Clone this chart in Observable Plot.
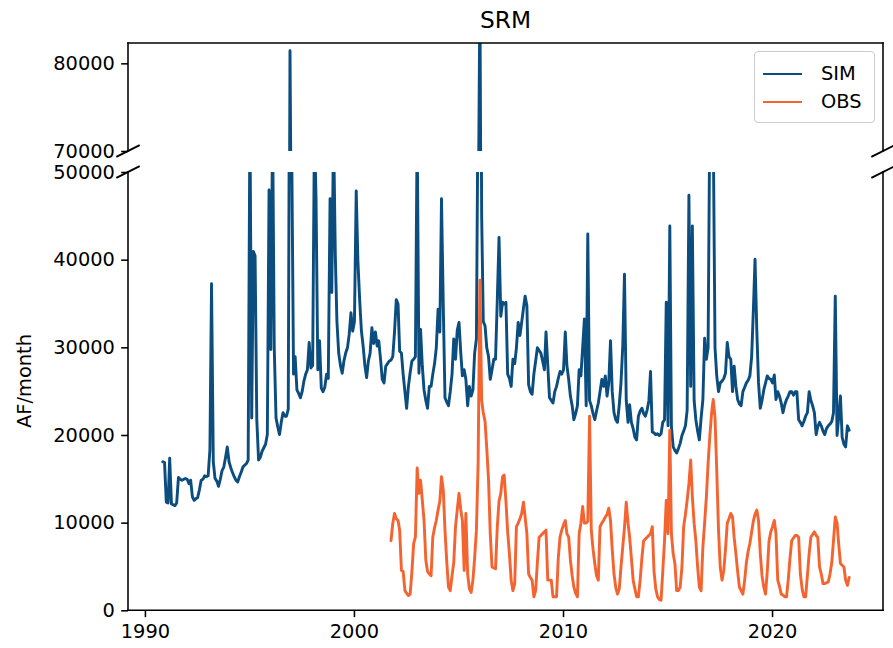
<!DOCTYPE html>
<html>
<head>
<meta charset="utf-8">
<script src="https://cdn.jsdelivr.net/npm/d3@7"></script>
<script src="https://cdn.jsdelivr.net/npm/@observablehq/plot@0.6"></script>
<style>
  body { margin: 0; background: #fff; }
  #chart { position: relative; width: 893px; height: 648px; overflow: hidden; font-family: "DejaVu Sans", sans-serif; color: #000; background: #fff; }
  #chart svg { position: absolute; left: 0; }
  .title { position: absolute; left: 128px; width: 755px; top: 8px; text-align: center; font-size: 23.3px; line-height: 1; }
  .ylabel { position: absolute; left: 25px; top: 381px; transform: translate(-50%, -50%) rotate(-90deg); font-size: 19.4px; white-space: nowrap; line-height: 1; }
  .legend { position: absolute; left: 754px; top: 51px; width: 121px; height: 72px; box-sizing: border-box; border: 1px solid #cccccc; border-radius: 4px; background: rgba(255,255,255,0.8); }
  .legend .sw { position: absolute; left: 8px; width: 39px; height: 2.9px; }
  .legend .lb { position: absolute; left: 66px; font-size: 19.4px; line-height: 1; transform: translateY(-50%); }
</style>
</head>
<body>
<div id="chart"></div>
<script>
// ---------------- data ----------------
const chartTitle = "SRM";
const yLabel = "AF/month";
const seriesNames = ["SIM", "OBS"];
const seriesColors = ["#0b4d7e", "#f46430"];

// monthly series: start [year, monthIndex(0-based)]
const simStart = [1990, 10];   // Nov 1990
const obsStart = [2001, 9];    // Oct 2001

// SIM, AF/month, Nov 1990 - Sep 2023 (one line per water year)
const simFlow = [
  17000, 16900, 12400, 12300, 17400, 12200, 12100, 12000, 12300, 15200, 15000,
  14900, 15000, 15100, 15000, 14500, 14900, 13000, 12600, 12800, 12900, 13800, 14900,
  15000, 15400, 15300, 15400, 18400, 37300, 17000, 15100, 14800, 14200, 15000, 16000,
  16400, 17500, 18700, 17000, 16300, 15800, 15300, 14900, 14700, 15300, 15800, 16400,
  16600, 16800, 17200, 57000, 22000, 41000, 40500, 21800, 17200, 17500, 18200, 18600,
  19000, 20100, 48000, 29800, 56000, 30000, 22000, 21000, 20100, 21500, 22600, 22200,
  22200, 23000, 81500, 52000, 27000, 29000, 25200, 24800, 24300, 25000, 26200, 27000,
  27500, 30600, 27700, 28000, 55000, 47000, 27500, 30800, 25400, 25000, 25500, 27000,
  26500, 47000, 36300, 55000, 40500, 33000, 29400, 28000, 27100, 28500, 29400, 30000,
  31500, 34000, 31900, 33000, 47900, 40000, 35500, 32000, 30200, 28000, 26600, 28500,
  29400, 32300, 30500, 31800, 30200, 30800, 28700, 26400, 26000, 27900, 28200, 28500,
  28600, 29000, 31800, 35500, 35000, 29600, 29400, 27000, 25000, 23100, 25600, 27200,
  28500, 28700, 29000, 55000, 27100, 32100, 27900, 25200, 24000, 23100, 25600, 25600,
  27000, 28200, 30000, 34400, 31800, 47000, 34800, 24300, 23800, 23400, 25000, 27000,
  31000, 28700, 32000, 32900, 29400, 26800, 27500, 26400, 23400, 25600, 24500, 25200,
  29400, 31000, 60000, 88000, 45000, 33000, 32500, 30000, 29000, 26400, 27500, 28700,
  28700, 35500, 42600, 33600, 35200, 35000, 35200, 27000, 26500, 25600, 28700, 28200,
  30000, 32900, 31400, 32900, 34500, 35900, 34800, 25800, 25000, 24700, 27000, 28500,
  30000, 29700, 29400, 28500, 27500, 31800, 28000, 24300, 24000, 23700, 25000, 25600,
  26500, 27300, 27000, 27500, 31800, 28000, 26400, 24500, 23400, 21800, 22500, 23400,
  27500, 26800, 30000, 33300, 23400, 43000, 24000, 23400, 22500, 21800, 22800, 23700,
  25000, 26400, 25600, 26800, 24500, 26000, 30800, 25000, 22600, 21800, 21500, 23500,
  26000, 30200, 38400, 24000, 21500, 23500, 21500, 20800, 19800, 19500, 22200, 22800,
  23100, 22500, 22200, 22900, 24000, 27300, 20400, 20300, 20100, 20200, 20000, 20200,
  21500, 21800, 35200, 21100, 43900, 21000, 18700, 18300, 18000, 18500, 19100, 20000,
  20500, 21100, 22900, 47400, 25600, 43900, 24000, 21800, 20500, 19500, 22000, 24100,
  31100, 28700, 30000, 58000, 62000, 55000, 30000, 26800, 25000, 26000, 26200, 26500,
  27100, 30600, 29000, 28700, 25000, 27900, 25600, 24100, 23600, 23400, 25000, 25500,
  26000, 26300, 26800, 29000, 34500, 40100, 32000, 26000, 23100, 24000, 25200, 26000,
  26800, 26500, 26400, 26000, 26900, 24100, 25000, 24500, 23700, 22600, 23500, 24100,
  24500, 25000, 25000, 24600, 25000, 25000, 21800, 21500, 21100, 21600, 22200, 22600,
  25000, 24000, 23400, 22600, 20100, 21000, 21500, 21100, 20500, 20100, 20800, 21100,
  21300, 21600, 22600, 35900, 20000, 22000, 24500, 19800, 19000, 18700, 21100, 20600
];

// OBS, AF/month, Oct 2001 - Sep 2023 (one line per water year)
const obsFlow = [
  8000, 10000, 11100, 10500, 10300, 9200, 4600, 4500, 2300, 2000, 1750, 1900,
  4500, 7700, 8400, 16300, 13400, 14900, 12600, 10300, 5800, 4500, 4200, 4000,
  8400, 9500, 10300, 11500, 12500, 15300, 13800, 9200, 5600, 2700, 2300, 4000,
  5500, 9600, 11500, 13400, 11500, 10300, 4600, 11100, 4200, 2500, 2100, 3500,
  6000, 9200, 16800, 37700, 24000, 22600, 21600, 18500, 14900, 8800, 5000, 4900,
  4800, 9600, 12500, 13400, 15300, 15500, 12500, 9000, 6500, 3500, 2300, 3100,
  9600, 10000, 10500, 11100, 12400, 10700, 8800, 4200, 3800, 3500, 1600, 2300,
  5500, 8400, 8600, 8800, 9000, 9200, 3500, 3500, 3500, 1600, 1600, 1600,
  6000, 8400, 9200, 9800, 10300, 8800, 8400, 5800, 4000, 2700, 2000, 1600,
  8800, 10000, 11900, 10000, 10000, 10200, 22200, 9200, 7000, 5400, 4000, 3500,
  9600, 10000, 10300, 10700, 11000, 11700, 10300, 7000, 4200, 2700, 1900, 2500,
  5000, 7300, 9500, 12400, 10000, 8400, 6000, 3500, 2500, 1600, 1600, 3500,
  6000, 8000, 8200, 8400, 8600, 8800, 9600, 4500, 2500, 1600, 1300, 1200,
  4500, 8000, 12600, 8800, 20600, 8800, 6500, 5400, 2300, 2300, 2700, 5000,
  9600, 11000, 12600, 14500, 17200, 13000, 10000, 8000, 5000, 2700, 2300, 7300,
  10000, 13000, 16800, 20000, 22600, 24100, 22000, 16000, 9200, 5000, 3500, 4600,
  7000, 10000, 10500, 11100, 10700, 8400, 6500, 4500, 2700, 2300, 1900, 3500,
  5500, 6800, 7700, 9000, 10300, 11000, 11500, 10300, 6500, 4000, 2700, 1900,
  4500, 8000, 9000, 9600, 10300, 8800, 3500, 2800, 1900, 1800, 1600, 1600,
  3500, 6000, 8000, 8300, 8600, 8600, 8400, 4200, 2500, 1600, 1600, 4000,
  6500, 8400, 8700, 9000, 8600, 8400, 5000, 4200, 3100, 3100, 3200, 3300,
  4200, 5500, 8000, 10700, 10000, 7700, 5400, 5200, 5000, 3500, 2900, 3800
];

const xTickYears = [1990, 2000, 2010, 2020];
const yTicksLower = [0, 10000, 20000, 30000, 40000, 50000];
const yTicksUpper = [70000, 80000];
const yDomainLower = [0, 50000];
const yDomainUpper = [70000, 82320];

// ---------------- build ----------------
const toRows = (vals, start) => vals.map((v, i) => ({date: new Date(Date.UTC(start[0], start[1] + i, 1)), value: v}));
const sim = toRows(simFlow, simStart);
const obs = toRows(obsFlow, obsStart);

const t0 = +sim[0].date, t1 = +sim[sim.length - 1].date;
const pad = (t1 - t0) * 0.05;
const xDomain = [new Date(t0 - pad), new Date(t1 + pad)];
const xTicks = xTickYears.map(y => new Date(Date.UTC(y, 0, 1)));

const PT = 140 / 72; // px per point
const tickLen = 3.5 * PT;

function spines(sides) {
  return (index, scales, values, dims) => {
    const {width, height, marginTop, marginRight, marginBottom, marginLeft} = dims;
    const l = marginLeft, r = width - marginRight, t = marginTop, b = height - marginBottom;
    const seg = {top: [l, t, r, t], bottom: [l, b, r, b], left: [l, t, l, b], right: [r, t, r, b]};
    const g = d3.create("svg:g").attr("stroke", "black").attr("stroke-width", 0.8 * PT).attr("stroke-linecap", "square");
    for (const s of sides) {
      const [x1, y1, x2, y2] = seg[s];
      g.append("line").attr("x1", x1).attr("y1", y1).attr("x2", x2).attr("y2", y2);
    }
    return g.node();
  };
}

function breakMarks(edge) {
  return (index, scales, values, dims) => {
    const {width, height, marginTop, marginRight, marginBottom, marginLeft} = dims;
    const y = edge === "top" ? marginTop : height - marginBottom;
    const dx = 6 * PT, dy = 3 * PT;
    const g = d3.create("svg:g").attr("stroke", "black").attr("stroke-width", 1 * PT);
    for (const x of [marginLeft, width - marginRight]) {
      g.append("line").attr("x1", x - dx).attr("y1", y + dy).attr("x2", x + dx).attr("y2", y - dy);
    }
    return g.node();
  };
}

const commonStyle = {fontFamily: "DejaVu Sans", fontSize: (10 * PT).toFixed(1) + "px", background: "transparent", overflow: "visible", color: "black"};
const lineOpts = (c) => ({x: "date", y: "value", stroke: c, strokeWidth: 1.5 * PT, clip: true});

const topPlot = Plot.plot({
  width: 893, height: 151,
  marginLeft: 128, marginRight: 10, marginTop: 43, marginBottom: 0,
  style: commonStyle,
  x: {type: "utc", domain: xDomain, axis: null},
  y: {domain: yDomainUpper, label: null},
  marks: [
    Plot.line(sim, lineOpts(seriesColors[0])),
    Plot.axisY({ticks: yTicksUpper, tickFormat: "d", tickSize: tickLen, tickPadding: tickLen, strokeWidth: 0.8 * PT, label: null}),
    spines(["top", "left", "right"]),
    breakMarks("bottom")
  ]
});
topPlot.style.top = "0px";

const bottomPlot = Plot.plot({
  width: 893, height: 497,
  marginLeft: 128, marginRight: 10, marginTop: 21, marginBottom: 37.7,
  style: commonStyle,
  x: {type: "utc", domain: xDomain, label: null},
  y: {domain: yDomainLower, label: null},
  marks: [
    Plot.line(sim, lineOpts(seriesColors[0])),
    Plot.line(obs, lineOpts(seriesColors[1])),
    Plot.axisY({ticks: yTicksLower, tickFormat: "d", tickSize: tickLen, tickPadding: tickLen, strokeWidth: 0.8 * PT, label: null}),
    Plot.axisX({ticks: xTicks, tickFormat: d => String(d.getUTCFullYear()), tickSize: tickLen, tickPadding: tickLen, strokeWidth: 0.8 * PT, label: null}),
    spines(["bottom", "left", "right"]),
    breakMarks("top")
  ]
});
bottomPlot.style.top = "151px";

const chart = document.getElementById("chart");
chart.appendChild(topPlot);
chart.appendChild(bottomPlot);

const title = document.createElement("div");
title.className = "title";
title.textContent = chartTitle;
chart.appendChild(title);

const yl = document.createElement("div");
yl.className = "ylabel";
yl.textContent = yLabel;
chart.appendChild(yl);

const legend = document.createElement("div");
legend.className = "legend";
const rowY = [22, 50];
seriesNames.forEach((name, i) => {
  const sw = document.createElement("div");
  sw.className = "sw";
  sw.style.top = (rowY[i] - 1.45) + "px";
  sw.style.background = seriesColors[i];
  legend.appendChild(sw);
  const lb = document.createElement("div");
  lb.className = "lb";
  lb.style.top = rowY[i] + "px";
  lb.textContent = name;
  legend.appendChild(lb);
});
chart.appendChild(legend);
</script>
</body>
</html>
